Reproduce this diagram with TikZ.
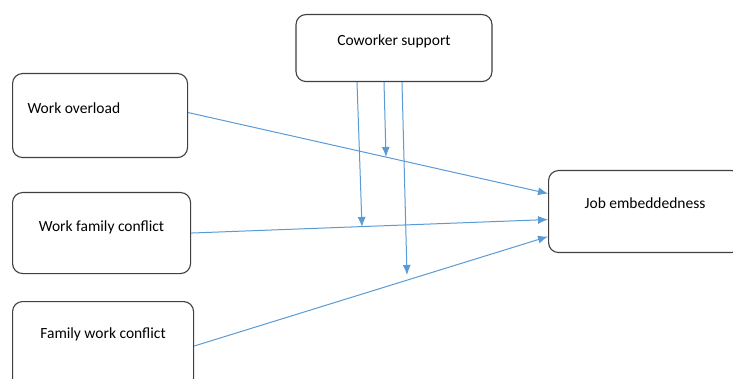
\documentclass[tikz,border=0pt]{standalone}
\usepackage{fontspec}
\setmainfont{Carlito}
\usetikzlibrary{arrows.meta}
\definecolor{linkblue}{RGB}{91,155,213}

\begin{document}
\begin{tikzpicture}[x=1pt, y=-1pt,
      box/.style = {draw=black!75, line width=1.1pt, rounded corners=10pt,
                    inner ysep=0pt, font=\fontsize{15.5}{18}\selectfont},
      link/.style = {draw=linkblue, line width=1pt,
                    -{Latex[length=10pt,width=8pt]}}
      ]
    \clip (0,0) rectangle (733,379);
    \fill[white] (0,0) rectangle (733,379);
    % boxes
    \node (cw) [box, minimum width=196pt, text height=31pt, text depth=36pt]
          at (394,0) [anchor=north, yshift=-14pt] {Coworker support};
    \node (wo) [box, inner xsep=15pt, text width=145pt, align=flush left,
                text height=40pt, text depth=44pt]
          at (12,73) [anchor=north west] {Work overload};
    \node (wfc) [box, minimum width=178pt, text height=39pt, text depth=42pt]
          at (12,192) [anchor=north west] {Work family conflict};
    \node (fwc) [box, minimum width=181pt, text height=37pt, text depth=50pt]
          at (12,301) [anchor=north west] {Family work conflict};
    \node (je) [box, minimum width=193pt, text height=38pt, text depth=44pt]
          at (548,170) [anchor=north west] {Job embeddedness};
    % direct effects
    \draw[link] ([yshift=3pt]wo.east) -- ([yshift=18pt]je.west);
    \draw[link] ([yshift=0pt]wfc.east) -- ([yshift=-8pt]je.west);
    \draw[link] ([yshift=-1pt]fwc.east) -- ([yshift=-25pt]je.west);
    % moderation
    \coordinate (m1) at (362,227);
    \coordinate (m2) at (386,157);
    \coordinate (m3) at (407,275);
    \draw[link] ([xshift=-37pt]cw.south) -- (m1);
    \draw[link] ([xshift=-10pt]cw.south) -- (m2);
    \draw[link] ([xshift=8pt]cw.south) -- (m3);
\end{tikzpicture}
\end{document}
